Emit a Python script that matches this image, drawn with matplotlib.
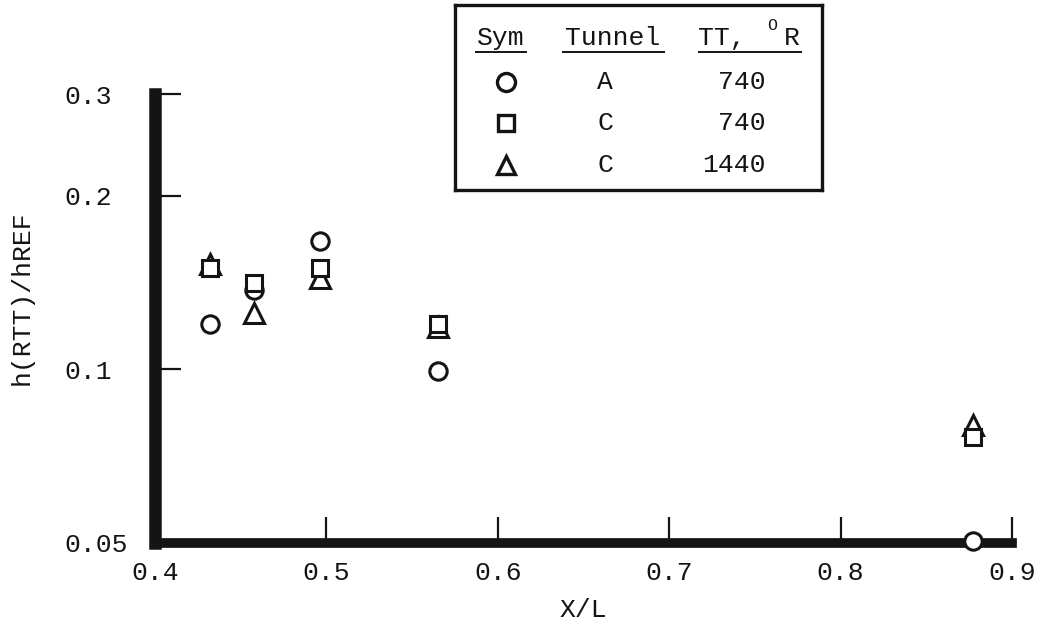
import matplotlib
matplotlib.use("Agg")
import matplotlib.pyplot as plt
from matplotlib.ticker import FixedLocator, FixedFormatter, NullLocator

plt.rcParams['font.family'] = ['Liberation Mono', 'DejaVu Sans Mono']

# Heat-transfer ratio along the body, three test conditions
x_over_l = [0.432, 0.4575, 0.496, 0.565, 0.877]
tunnel_a_740 = [0.120, 0.137, 0.167, 0.0995, 0.0505]    # circles
tunnel_c_740 = [0.150, 0.141, 0.150, 0.120, 0.0762]     # squares
tunnel_c_1440 = [0.152, 0.1254, 0.144, 0.1182, 0.0802]  # triangles

x_ticks = [0.4, 0.5, 0.6, 0.7, 0.8, 0.9]
x_tick_labels = ['0.4', '0.5', '0.6', '0.7', '0.8', '0.9']
y_ticks = [0.05, 0.1, 0.2, 0.3]
y_tick_labels = ['0.05', '0.1', '0.2', '0.3']

key_symbols = ['o', 's', '^']
key_tunnels = ['A', 'C', 'C']
key_temps = ['740', '740', '1440']

W, H = 1045, 633
fig = plt.figure(figsize=(W / 100, H / 100), dpi=100)
ax = fig.add_axes([155 / W, 1 - 543 / H, (1012 - 155) / W, (543 - 94) / H])

ax.set_yscale('log')
ax.set_xlim(0.4, 0.9)
ax.set_ylim(0.05, 0.3)

ink = '#141414'
mstyle = dict(linestyle='none', markerfacecolor='white', markeredgecolor=ink,
              markeredgewidth=2.2, clip_on=False)
ax.plot(x_over_l, tunnel_a_740, marker='o', markersize=12.5, zorder=5, **mstyle)
ax.plot(x_over_l, tunnel_c_1440, marker='^', markersize=14, zorder=6, **mstyle)
ax.plot(x_over_l, tunnel_c_740, marker='s', markersize=11, zorder=7, **mstyle)

# Heavy plotting frame: only left and bottom edges
for side in ('top', 'right'):
    ax.spines[side].set_visible(False)
ax.spines['left'].set_linewidth(9)
ax.spines['bottom'].set_linewidth(7)
for side in ('left', 'bottom'):
    ax.spines[side].set_color(ink)
    ax.spines[side].set_capstyle('projecting')
    ax.spines[side].set_zorder(3)

ax.xaxis.set_major_locator(FixedLocator(x_ticks))
ax.xaxis.set_major_formatter(FixedFormatter(x_tick_labels))
ax.yaxis.set_major_locator(FixedLocator(y_ticks))
ax.yaxis.set_major_formatter(FixedFormatter(y_tick_labels))
ax.yaxis.set_minor_locator(NullLocator())
ax.xaxis.set_minor_locator(NullLocator())

ax.tick_params(axis='x', direction='in', length=19, width=1.6, color=ink,
               labelsize=19, pad=13, labelcolor=ink)
ax.tick_params(axis='y', direction='in', length=19, width=1.6, color=ink,
               labelsize=19, pad=65, labelcolor=ink)
for lab in ax.get_yticklabels():
    lab.set_horizontalalignment('left')

ax.set_xlabel('X/L', fontsize=19, color=ink, va='center')
ax.xaxis.set_label_coords(0.5, (543 - 610) / 449)
ax.set_ylabel('h(RTT)/hREF', fontsize=19, color=ink, va='center')
ax.yaxis.set_label_coords((22 - 155) / 857, (543 - 298) / 449)

# Symbol key box, laid out in pixel units
kx0, kx1, ky0, ky1 = 455, 822, 5, 190
kax = fig.add_axes([kx0 / W, 1 - ky1 / H, (kx1 - kx0) / W, (ky1 - ky0) / H])
kax.set_xlim(kx0, kx1)
kax.set_ylim(ky1, ky0)
kax.set_xticks([])
kax.set_yticks([])
for s in kax.spines.values():
    s.set_linewidth(2.4)
    s.set_color(ink)

fs = 19
kax.text(501, 45, 'Sym', ha='center', va='baseline', fontsize=fs, color=ink)
kax.text(613, 45, 'Tunnel', ha='center', va='baseline', fontsize=fs, color=ink)
kax.text(698, 45, 'TT,', ha='left', va='baseline', fontsize=fs, color=ink)
kax.text(772, 26, 'O', ha='center', va='center', fontsize=12, color=ink)
kax.text(792, 45, 'R', ha='center', va='baseline', fontsize=fs, color=ink)
for a, b in [(475, 527), (562, 665), (698, 802)]:
    kax.plot([a, b], [52, 52], color=ink, lw=1.4, solid_capstyle='butt')

row_y = [82, 123, 165]
key_sizes = [13, 12, 13]
for sym, ms, tun, temp, yy in zip(key_symbols, key_sizes, key_tunnels, key_temps, row_y):
    kax.plot([506], [yy], marker=sym, markersize=ms, markerfacecolor='white',
             markeredgecolor=ink, markeredgewidth=2.4, linestyle='none')
    kax.text(605, yy, tun, ha='center', va='center', fontsize=fs, color=ink)
    kax.text(766, yy, temp, ha='right', va='center', fontsize=fs, color=ink)

fig.savefig('out.png', dpi=100, facecolor='white')
